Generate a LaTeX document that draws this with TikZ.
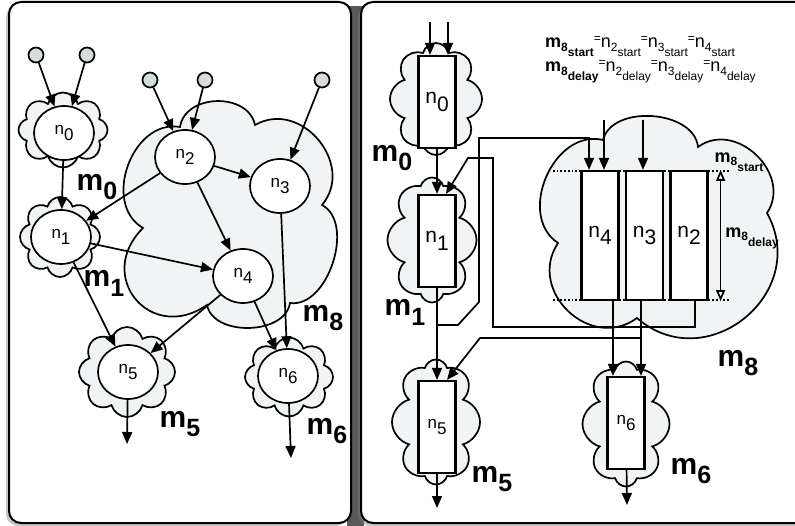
\documentclass[tikz,border=0pt]{standalone}
\usepackage{fontspec}
\setmainfont{Liberation Sans}
\usetikzlibrary{shapes.geometric,shapes.symbols,arrows.meta,shadows}

\definecolor{nube}{RGB}{240,244,245}
\definecolor{entrada}{RGB}{212,221,217}

% Etiquetas con subíndice
\newcommand{\nsub}[1]{n\raisebox{-.35em}{#1}}
\newcommand{\mbig}[1]{{\fontsize{30}{30}\selectfont\bfseries m\raisebox{-.33em}{\fontsize{25}{25}\selectfont #1}}}
\newcommand{\mocho}[1]{{\bfseries\fontsize{18}{18}\selectfont m\raisebox{-.2em}{\fontsize{12}{12}\selectfont 8\raisebox{-.45em}{#1}}}}
\newcommand{\nocho}[2]{{\fontsize{18}{18}\selectfont n\raisebox{-.2em}{\fontsize{12}{12}\selectfont #1\raisebox{-.45em}{#2}}}}
\newcommand{\igual}{{\fontsize{12}{12}\selectfont\raisebox{.4em}{=}}}

\begin{document}
\begin{tikzpicture}[x=1pt, y=1pt,
    nodo/.style={ellipse, draw, line width=1.7pt, fill=white, minimum width=60pt, minimum height=54pt, inner sep=0pt, font=\fontsize{17}{17}\selectfont},
    bloque/.style={rectangle, draw, line width=2.2pt, fill=white, minimum width=37pt, minimum height=92pt, inner sep=0pt, font=\fontsize{21}{21}\selectfont},
    nubes/.style={cloud, cloud puffs=8, cloud puff arc=150, cloud ignores aspect, draw, line width=1.7pt, fill=nube, inner sep=0pt},
    fuente/.style={circle, draw, line width=1.7pt, fill=entrada, minimum size=15pt, inner sep=0pt},
    flecha/.style={line width=1.7pt, -{Triangle[length=12pt,width=10pt]}},
    doble/.style={line width=1.7pt, {Triangle[open,length=11pt,width=9pt]}-{Triangle[open,length=11pt,width=9pt]}},
    guia/.style={line width=1.7pt, dotted},
    panel/.style={draw, line width=2pt, rounded corners=12pt, fill=white, drop shadow={shadow xshift=-3pt, shadow yshift=-3pt, opacity=.45}}]
    \clip (0,0) rectangle (795,-526);

    % Paneles
    \fill[black!65] (347,-6) rectangle (364,-530);
    \draw[panel] (9,-2) rectangle (351,-523);
    \draw[panel] (361,-2) rectangle (830,-523);

    % ---------- Panel izquierdo ----------
    % Nubes de cada nodo
    \node[nubes, minimum width=89pt, minimum height=75pt] (c0) at (63,-130) {};
    \node[nubes, minimum width=80pt, minimum height=80pt] (c1) at (60,-237) {};
    \node[nubes, minimum width=96pt, minimum height=90pt] (c5) at (127,-372) {};
    \node[nubes, minimum width=88pt, minimum height=79pt] (c6) at (289,-377) {};
    % Nube grande m8
    \draw[line width=1.7pt, fill=nube] (180,-127)
        to[bend left=80, looseness=1.15] (255,-125)
        to[bend left=80, looseness=1.3] (322,-205)
        to[bend left=80, looseness=0.95] (290,-303)
        to[bend left=80, looseness=1.0] (207,-305)
        to[bend left=85, looseness=1.75] (143,-228)
        to[bend left=80, looseness=1.15] cycle;

    % Entradas
    \node[fuente] (e1) at (36,-55) {};
    \node[fuente] (e2) at (87,-55) {};
    \node[fuente] (e3) at (150,-80) {};
    \node[fuente] (e4) at (205,-80) {};
    \node[fuente] (e5) at (322,-80) {};

    % Nodos
    \node[nodo] (n0) at (64,-133) {\nsub{0}};
    \node[nodo] (n1) at (61,-237) {\nsub{1}};
    \node[nodo] (n2) at (185,-157) {\nsub{2}};
    \node[nodo] (n3) at (280,-186) {\nsub{3}};
    \node[nodo] (n4) at (243,-276) {\nsub{4}};
    \node[nodo] (n5) at (128,-372) {\nsub{5}};
    \node[nodo] (n6) at (288,-376) {\nsub{6}};
    \coordinate (s5) at (127,-444);
    \coordinate (s6) at (291,-458);

    % Aristas
    \draw[flecha] (e1) -- (n0);
    \draw[flecha] (e2) -- (n0);
    \draw[flecha] (e3) -- (n2);
    \draw[flecha] (e4) -- (n2);
    \draw[flecha] (e5) -- (n3);
    \draw[flecha] (n0) -- (n1);
    \draw[flecha] (n2) -- (n3);
    \draw[flecha] (n2) -- (n1);
    \draw[flecha] (n2) -- (n4);
    \draw[flecha] (n1) -- (n4);
    \draw[flecha] (n1) -- (n5);
    \draw[flecha] (n4) -- (n5);
    \draw[flecha] (n4) -- (n6);
    \draw[flecha] (n3) -- (n6);
    \draw[flecha] (n5) -- (s5);
    \draw[flecha] (n6) -- (s6);

    % Etiquetas de las nubes
    \node (m0) at (97,-187) {\mbig{0}};
    \node (m1) at (104,-283) {\mbig{1}};
    \node (m8) at (323,-318) {\mbig{8}};
    \node (m5) at (180,-424) {\mbig{5}};
    \node (m6) at (327,-431) {\mbig{6}};

    % ---------- Panel derecho ----------
    % Nubes de cada bloque
    \node[nubes, minimum width=92pt, minimum height=112pt] (d0) at (436,-99) {};
    \node[nubes, minimum width=89pt, minimum height=125pt] (d1) at (432,-240) {};
    \node[nubes, minimum width=88pt, minimum height=125pt] (d5) at (436,-422) {};
    \node[nubes, minimum width=87pt, minimum height=125pt] (d6) at (626,-424) {};
    % Nube grande m8
    \draw[line width=1.7pt, fill=nube] (603,-140)
        to[bend left=80, looseness=1.0] (698,-147)
        to[bend left=80, looseness=1.25] (767,-213)
        to[bend left=80, looseness=1.4] (637,-318)
        to[bend left=80, looseness=1.35] (558,-243)
        to[bend left=80, looseness=1.15] cycle;

    % Bloques
    \node[bloque] (r0) at (437,-102) {\nsub{0}};
    \node[bloque] (r1) at (437,-241) {\nsub{1}};
    \node[bloque, font=\fontsize{17}{17}\selectfont] (r5) at (437,-427) {\nsub{5}};
    \node[bloque, font=\fontsize{17}{17}\selectfont] (r6) at (626,-423) {\nsub{6}};
    \draw[guia] (553,-171) -- (730,-171);
    \draw[guia] (553,-300) -- (730,-300);
    \node[bloque, minimum height=129pt] (r4) at (600,-235.5) {\nsub{4}};
    \node[bloque, minimum height=129pt] (r3) at (644.5,-235.5) {\nsub{3}};
    \node[bloque, minimum height=129pt] (r2) at (689,-235.5) {\nsub{2}};
    \draw[doble] ([xshift=12pt]r2.north east) -- ([xshift=12pt]r2.south east);

    % Entradas y salidas
    \coordinate (i1) at (430,-22);
    \coordinate (i2) at (448,-22);
    \coordinate (i3) at (604,-120);
    \coordinate (i4) at (643,-120);
    \coordinate (o5) at (437,-508);
    \coordinate (o6) at (627,-505);
    \draw[flecha] (i1) -- (i1 |- r0.north);
    \draw[flecha] (i2) -- (i2 |- r0.north);
    \draw[flecha] (i3) -- (i3 |- r4.north);
    \draw[flecha] (i4) -- (i4 |- r3.north);
    \draw[flecha] (r5) -- (o5);
    \draw[flecha] (r6) -- (o6);

    % Cableado entre bloques
    \coordinate (a1) at (695,-327);
    \coordinate (a2) at (493,-327);
    \coordinate (a3) at (493,-158);
    \coordinate (a4) at (468,-158);
    \coordinate (b0) at (437,-325);
    \coordinate (b1) at (458,-325);
    \coordinate (b2) at (479,-302);
    \coordinate (b3) at (479,-138);
    \coordinate (b4) at (589,-138);
    \coordinate (c1) at (641,-338);
    \coordinate (c2) at (480,-338);
    \coordinate (c3) at (613,-300);
    \draw[flecha] (r0) -- (r1);
    \draw[flecha] (r1) -- (r5);
    \draw[flecha] (a1 |- r2.south) -- (a1) -- (a2) -- (a3) -- (a4) -- ([xshift=9pt]r1.north);
    \draw[flecha] (b0) -- (b1) -- (b2) -- (b3) -- (b4) -- (b4 |- r4.north);
    \draw[flecha] (c1) -- (c2) -- ([xshift=10pt]r5.north);
    \draw[flecha] (c1 |- r3.south) -- (c1 |- r6.north);
    \draw[flecha] (c3) -- (c3 |- r6.north);

    % Etiquetas
    \node (p0) at (392,-158) {\mbig{0}};
    \node (p1) at (405,-312) {\mbig{1}};
    \node (p5) at (492,-479) {\mbig{5}};
    \node (p6) at (691,-471) {\mbig{6}};
    \node (p8) at (738,-363) {\mbig{8}};
    \node (ps) at (739,-162) {\mocho{start}};
    \node (pd) at (752,-238) {\mocho{delay}};
    \node[anchor=west, inner sep=0pt] (f1) at (545,-47) {\mocho{start}\igual\nocho{2}{start}\igual\nocho{3}{start}\igual\nocho{4}{start}};
    \node[anchor=west, inner sep=0pt] (f2) at (545,-72) {\mocho{delay}\igual\nocho{2}{delay}\igual\nocho{3}{delay}\igual\nocho{4}{delay}};
\end{tikzpicture}
\end{document}
